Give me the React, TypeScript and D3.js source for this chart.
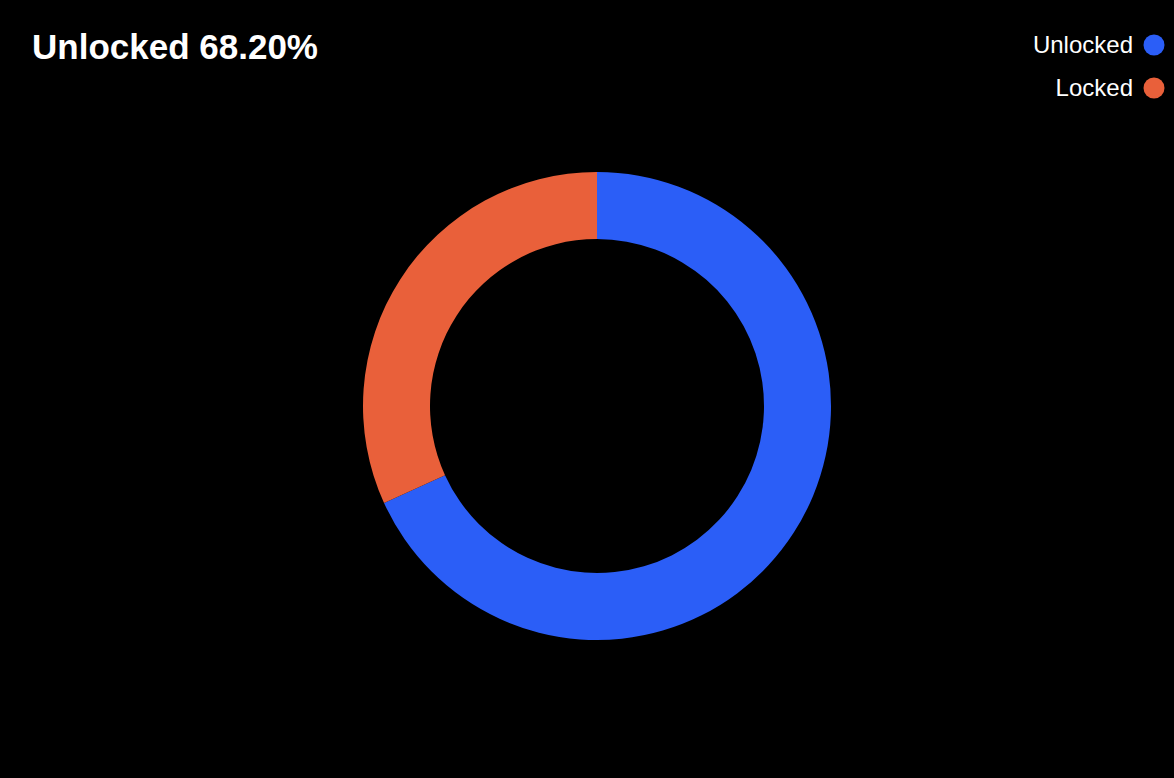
import React, { useEffect, useRef } from 'react';
import * as d3 from 'd3';

const labels = ['Unlocked', 'Locked'];
const values = [68.2, 31.8];
const colors = ['#2b5ef7', '#e9603a'];

const App = () => {
  const ref = useRef<SVGSVGElement>(null);

  useEffect(() => {
    const svg = d3.select(ref.current);
    svg.selectAll('*').remove();
    const width = 1174;
    const height = 778;

    svg.append('rect').attr('width', width).attr('height', height).attr('fill', '#000');

    const data = labels.map((l, i) => ({ label: l, value: values[i], color: colors[i] }));
    const pie = d3.pie<any>().value(d => d.value).sort(null);
    const arc = d3.arc<any>().innerRadius(167).outerRadius(234);

    const g = svg.append('g').attr('transform', 'translate(597,406)');
    g.selectAll('path')
      .data(pie(data))
      .enter()
      .append('path')
      .attr('d', arc)
      .attr('fill', d => d.data.color);

    svg.append('text')
      .attr('x', 32)
      .attr('y', 59)
      .attr('fill', '#fff')
      .attr('font-family', 'Liberation Sans, Arial, sans-serif')
      .attr('font-weight', 'bold')
      .attr('font-size', 35)
      .text(`${labels[0]} ${values[0].toFixed(2)}%`);

    const legend = svg.append('g')
      .selectAll('g')
      .data(data)
      .enter()
      .append('g')
      .attr('transform', (d, i) => `translate(1154,${45 + i * 43})`);

    legend.append('circle').attr('r', 10.5).attr('fill', d => d.color);
    legend.append('text')
      .attr('x', -21)
      .attr('y', 8)
      .attr('text-anchor', 'end')
      .attr('fill', '#fff')
      .attr('font-family', 'Liberation Sans, Arial, sans-serif')
      .attr('font-size', 24)
      .text(d => d.label);
  }, []);

  return (
    <svg
      ref={ref}
      width={1174}
      height={778}
      style={{ position: 'absolute', left: 0, top: 0, display: 'block' }}
    ></svg>
  );
};

export default App;
